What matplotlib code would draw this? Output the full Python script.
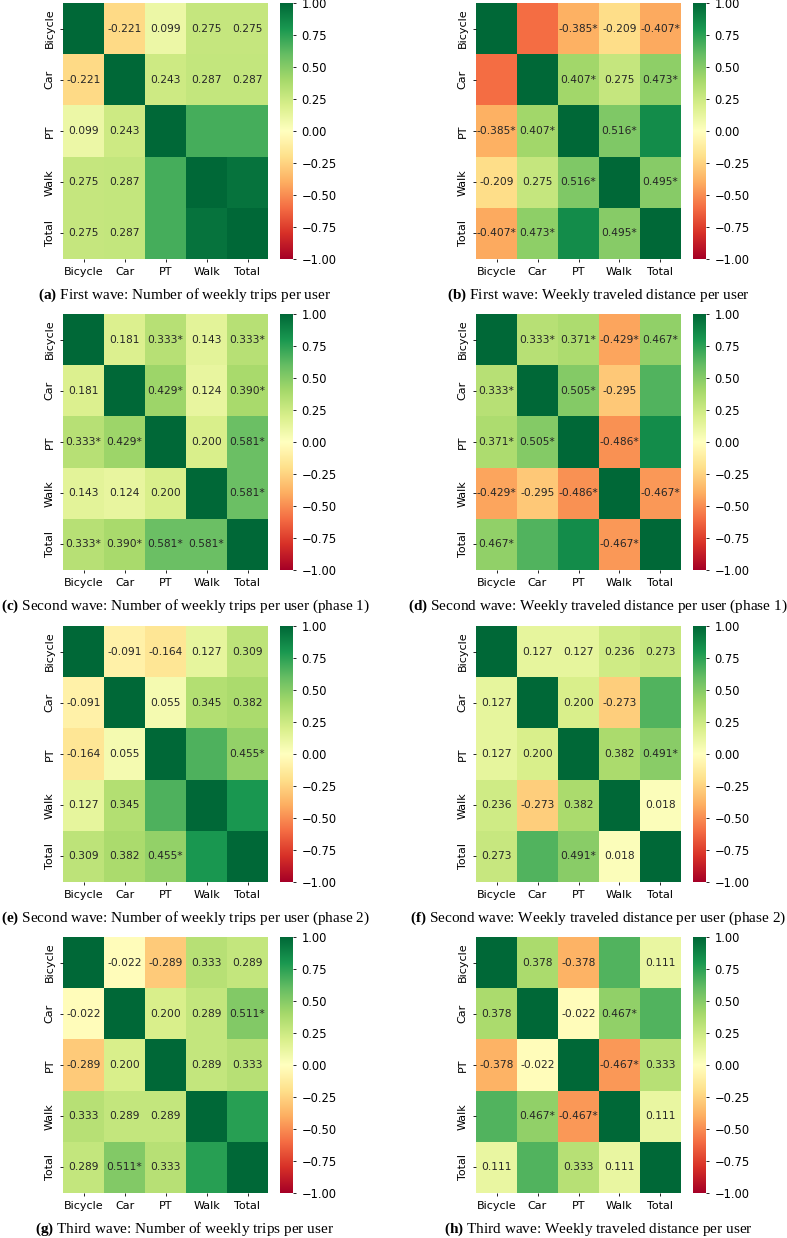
"""
    correlation heatmaps of weekly trips / traveled distance per transport mode
"""
import numpy
import matplotlib
matplotlib.use("Agg")
import matplotlib.pyplot as plt
import seaborn as sns

modes = ["Bicycle", "Car", "PT", "Walk", "Total"]

# correlation values (hidden cells estimated from colour)
corr_a = [[1.000, -0.221, 0.099, 0.275, 0.275],
          [-0.221, 1.000, 0.243, 0.287, 0.287],
          [0.099, 0.243, 1.000, 0.680, 0.680],
          [0.275, 0.287, 0.680, 1.000, 0.950],
          [0.275, 0.287, 0.680, 0.950, 1.000]]
corr_b = [[1.000, -0.600, -0.385, -0.209, -0.407],
          [-0.600, 1.000, 0.407, 0.275, 0.473],
          [-0.385, 0.407, 1.000, 0.516, 0.850],
          [-0.209, 0.275, 0.516, 1.000, 0.495],
          [-0.407, 0.473, 0.850, 0.495, 1.000]]
corr_c = [[1.000, 0.181, 0.333, 0.143, 0.333],
          [0.181, 1.000, 0.429, 0.124, 0.390],
          [0.333, 0.429, 1.000, 0.200, 0.581],
          [0.143, 0.124, 0.200, 1.000, 0.581],
          [0.333, 0.390, 0.581, 0.581, 1.000]]
corr_d = [[1.000, 0.333, 0.371, -0.429, 0.467],
          [0.333, 1.000, 0.505, -0.295, 0.650],
          [0.371, 0.505, 1.000, -0.486, 0.850],
          [-0.429, -0.295, -0.486, 1.000, -0.467],
          [0.467, 0.650, 0.850, -0.467, 1.000]]
corr_e = [[1.000, -0.091, -0.164, 0.127, 0.309],
          [-0.091, 1.000, 0.055, 0.345, 0.382],
          [-0.164, 0.055, 1.000, 0.660, 0.455],
          [0.127, 0.345, 0.660, 1.000, 0.800],
          [0.309, 0.382, 0.455, 0.800, 1.000]]
corr_f = [[1.000, 0.127, 0.127, 0.236, 0.273],
          [0.127, 1.000, 0.200, -0.273, 0.650],
          [0.127, 0.200, 1.000, 0.382, 0.491],
          [0.236, -0.273, 0.382, 1.000, 0.018],
          [0.273, 0.650, 0.491, 0.018, 1.000]]
corr_g = [[1.000, -0.022, -0.289, 0.333, 0.289],
          [-0.022, 1.000, 0.200, 0.289, 0.511],
          [-0.289, 0.200, 1.000, 0.289, 0.333],
          [0.333, 0.289, 0.289, 1.000, 0.760],
          [0.289, 0.511, 0.333, 0.760, 1.000]]
corr_h = [[1.000, 0.378, -0.378, 0.650, 0.111],
          [0.378, 1.000, -0.022, 0.467, 0.650],
          [-0.378, -0.022, 1.000, -0.467, 0.333],
          [0.650, 0.467, -0.467, 1.000, 0.111],
          [0.111, 0.650, 0.333, 0.111, 1.000]]

# significant pairs (marked with *) and pairs without annotation, upper triangle
stars_a, hidden_a = [], [(2, 3), (2, 4), (3, 4)]
stars_b, hidden_b = [(0, 2), (0, 4), (1, 2), (1, 4), (2, 3), (3, 4)], [(0, 1), (2, 4)]
stars_c, hidden_c = [(0, 2), (0, 4), (1, 2), (1, 4), (2, 4), (3, 4)], []
stars_d, hidden_d = [(0, 1), (0, 2), (0, 3), (0, 4), (1, 2), (2, 3), (3, 4)], [(1, 4), (2, 4)]
stars_e, hidden_e = [(2, 4)], [(2, 3), (3, 4)]
stars_f, hidden_f = [(2, 4)], [(1, 4)]
stars_g, hidden_g = [(1, 4)], [(3, 4)]
stars_h, hidden_h = [(1, 3), (2, 3)], [(0, 3), (1, 4)]

captions = [
    ("a", "First wave: Number of weekly trips per user"),
    ("b", "First wave: Weekly traveled distance per user"),
    ("c", "Second wave: Number of weekly trips per user (phase 1)"),
    ("d", "Second wave: Weekly traveled distance per user (phase 1)"),
    ("e", "Second wave: Number of weekly trips per user (phase 2)"),
    ("f", "Second wave: Weekly traveled distance per user (phase 2)"),
    ("g", "Third wave: Number of weekly trips per user"),
    ("h", "Third wave: Weekly traveled distance per user"),
]


def make_labels(corr, stars, hidden):
    labels = []
    for i in range(5):
        row = []
        for j in range(5):
            key = (min(i, j), max(i, j))
            if i == j or key in hidden:
                row.append("")
            else:
                row.append("%.3f%s" % (corr[i][j], "*" if key in stars else ""))
        labels.append(row)
    return labels


panels = [(corr_a, stars_a, hidden_a), (corr_b, stars_b, hidden_b),
          (corr_c, stars_c, hidden_c), (corr_d, stars_d, hidden_d),
          (corr_e, stars_e, hidden_e), (corr_f, stars_f, hidden_f),
          (corr_g, stars_g, hidden_g), (corr_h, stars_h, hidden_h)]

plt.rcParams["mathtext.fontset"] = "custom"
plt.rcParams["mathtext.rm"] = "Liberation Serif"
plt.rcParams["mathtext.bf"] = "Liberation Serif:bold"

W, H = 787.0, 1238.0
fig = plt.figure(figsize=(W / 100, H / 100), dpi=100)

col_x = [63, 476]
row_top = [3, 314, 626, 937]
hm_w, hm_h = 205, 256

for k, (corr, stars, hidden) in enumerate(panels):
    r, c = divmod(k, 2)
    x0, y0 = col_x[c], row_top[r]
    ax = fig.add_axes([x0 / W, 1 - (y0 + hm_h) / H, hm_w / W, hm_h / H])
    cax = fig.add_axes([(x0 + 217) / W, 1 - (y0 + hm_h) / H, 13 / W, hm_h / H])
    sns.heatmap(numpy.array(corr), annot=make_labels(corr, stars, hidden), fmt="",
                cmap="RdYlGn", vmin=-1, vmax=1, ax=ax, cbar_ax=cax,
                xticklabels=modes, yticklabels=modes,
                annot_kws={"fontsize": 7.7})
    ax.tick_params(labelsize=8, length=2.5, width=0.6)
    ax.set_yticklabels(modes, rotation=90, va="center")
    cax.set_yticks(numpy.arange(-1, 1.01, 0.25))
    cax.tick_params(labelsize=8.3, length=2.5, width=0.6)
    letter, text = captions[k]
    fig.text((x0 + 122) / W, 1 - (y0 + 292) / H, r"$\mathbf{(%s)}$ %s" % (letter, text),
             ha="center", va="center", fontsize=11, family="Liberation Serif")

fig.savefig("out.png", dpi=100, facecolor="white")
